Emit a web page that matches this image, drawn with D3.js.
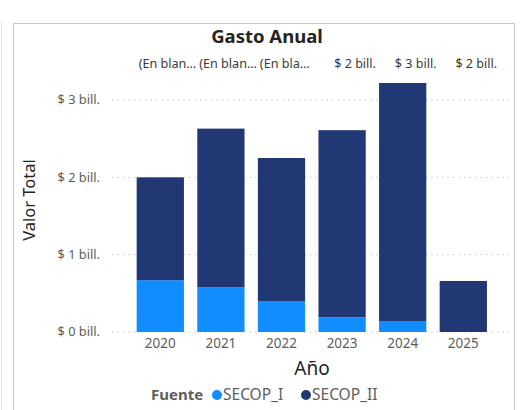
<!DOCTYPE html>
<meta charset="utf-8">
<style>
    body {
        margin: 0;
        background-color: #fff;
    }
    text {
        font-family: "Noto Sans", "Open Sans", sans-serif;
    }
    .grid line {
        stroke: #c8c6c4;
        stroke-dasharray: 1.5, 4;
    }
    text.tick-y {
        font-size: 12.8px;
        fill: #605e5c;
    }
    text.tick-x {
        font-size: 13.5px;
        fill: #605e5c;
    }
    text.total {
        font-size: 12.6px;
        fill: #3b3a39;
    }
    text.axis-title {
        font-size: 16.5px;
        fill: #252423;
    }
    text.legend {
        font-size: 15.5px;
        fill: #605e5c;
    }
</style>
<title>Gasto Anual</title>
<body>
<script src="https://cdn.jsdelivr.net/npm/d3@7"></script>
<div id="graph"></div>
<script>
    var years = ["2020", "2021", "2022", "2023", "2024", "2025"];
    var series = ["SECOP_I", "SECOP_II"];
    var secopI = [0.67, 0.58, 0.40, 0.19, 0.135, 0];
    var secopII = [1.33, 2.05, 1.85, 2.42, 3.085, 0.66];
    var totalLabels = ["(En blan…", "(En blan…", "(En bla…", "$ 2 bill.", "$ 3 bill.", "$ 2 bill."];
    var yTicks = [0, 1, 2, 3];
    var colors = ["#118dff", "#223874"];

    var width = 520, height = 410;

    var svg = d3.select("#graph")
        .append("svg")
        .attr("width", width)
        .attr("height", height);

    // card border
    svg.append("rect")
        .attr("x", 13.5).attr("y", 23.5)
        .attr("width", 501).attr("height", 400)
        .style("fill", "none")
        .style("stroke", "#c8c8c8");
    svg.append("line")
        .attr("x1", 1.5).attr("x2", 1.5).attr("y1", 22).attr("y2", 410)
        .style("stroke", "#e6e6e6");

    var x = d3.scaleBand()
        .domain(years)
        .range([130, 493.6])
        .paddingInner(0.22)
        .paddingOuter(0.11);

    var y = d3.scaleLinear()
        .domain([0, 3])
        .range([332, 100]);

    // gridlines
    svg.append("g")
        .attr("class", "grid")
        .selectAll("line")
        .data(yTicks)
        .enter().append("line")
        .attr("x1", 112).attr("x2", 511)
        .attr("y1", d => y(d)).attr("y2", d => y(d));

    svg.append("g")
        .selectAll("text")
        .data(yTicks)
        .enter().append("text")
        .attr("class", "tick-y")
        .attr("x", 100)
        .attr("y", d => y(d))
        .attr("dy", "0.35em")
        .attr("text-anchor", "end")
        .text(d => "$ " + d + " bill.");

    var rows = years.map((yr, i) => ({year: yr, SECOP_I: secopI[i], SECOP_II: secopII[i]}));
    var stacked = d3.stack().keys(series)(rows);

    svg.append("g")
        .selectAll("g")
        .data(stacked)
        .enter().append("g")
        .style("fill", (d, i) => colors[i])
        .selectAll("rect")
        .data(d => d.filter(p => p[1] - p[0] > 0))
        .enter().append("rect")
        .attr("x", d => x(d.data.year))
        .attr("y", d => y(d[1]))
        .attr("width", x.bandwidth())
        .attr("height", d => y(d[0]) - y(d[1]));

    // total labels: truncated ones start at the bar, the others sit centred
    var truncated = d => d.endsWith("…");
    svg.append("g")
        .selectAll("text")
        .data(totalLabels)
        .enter().append("text")
        .attr("class", "total")
        .attr("x", (d, i) => truncated(d) ? x(years[i]) + 2 : x(years[i]) + x.bandwidth() / 2 + 13)
        .attr("y", 68)
        .attr("text-anchor", d => truncated(d) ? "start" : "middle")
        .text(d => d);

    // x ticks
    svg.append("g")
        .selectAll("text")
        .data(years)
        .enter().append("text")
        .attr("class", "tick-x")
        .attr("x", d => x(d) + x.bandwidth() / 2)
        .attr("y", 348)
        .attr("text-anchor", "middle")
        .text(d => d);

    // titles
    svg.append("text")
        .attr("x", 267).attr("y", 43)
        .attr("text-anchor", "middle")
        .style("font-size", "18.5px")
        .style("font-weight", "bold")
        .style("fill", "#252423")
        .text("Gasto Anual");

    svg.append("text")
        .attr("class", "axis-title")
        .attr("transform", "translate(35,200) rotate(-90)")
        .attr("text-anchor", "middle")
        .text("Valor Total");

    svg.append("text")
        .attr("class", "axis-title")
        .attr("x", 312).attr("y", 375)
        .attr("text-anchor", "middle")
        .style("font-size", "19px")
        .text("Año");

    // legend
    svg.append("text")
        .attr("class", "legend")
        .attr("x", 151).attr("y", 400)
        .style("font-weight", "bold")
        .style("font-size", "15px")
        .text("Fuente");

    var legendX = [217, 306];
    var lg = svg.append("g")
        .selectAll("g")
        .data(series)
        .enter().append("g");
    lg.append("circle")
        .attr("cx", (d, i) => legendX[i])
        .attr("cy", 395)
        .attr("r", 5)
        .style("fill", (d, i) => colors[i]);
    lg.append("text")
        .attr("class", "legend")
        .attr("x", (d, i) => legendX[i] + 6)
        .attr("y", 400)
        .text(d => d);
</script>
</body>
